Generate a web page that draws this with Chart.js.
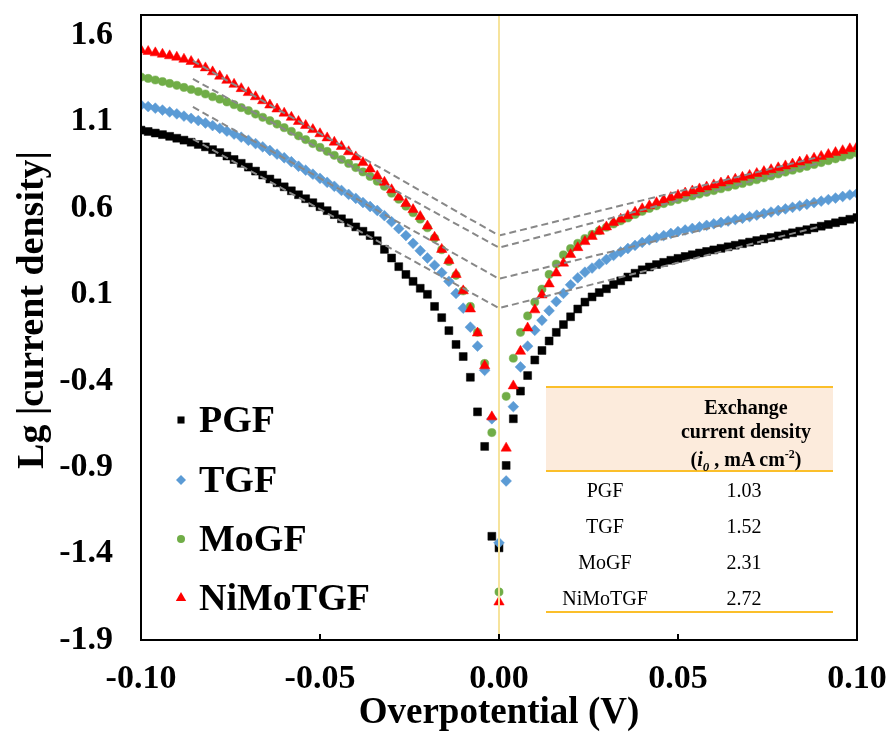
<!DOCTYPE html>
<html>
<head>
<meta charset="utf-8">
<script src="https://cdn.jsdelivr.net/npm/chart.js@4/dist/chart.umd.min.js"></script>
<style>
  html, body { margin: 0; padding: 0; background: #fff; }
  #wrap { position: relative; width: 887px; height: 738px; font-family: "Liberation Serif", "Times New Roman", serif; }
  #chart { position: absolute; left: 0; top: 0; }
  .rule { position: absolute; left: 546px; width: 287px; height: 2px; background: #fbbf2a; }
  .cell { position: absolute; height: 24px; line-height: 24px; font-size: 20px; text-align: center; color: #000; white-space: nowrap; }
  #tblHead { position: absolute; left: 546px; top: 388px; width: 287px; height: 82px; background: #fcebdc; }
  #tblHeadText { position: absolute; left: 646px; top: 396px; width: 200px; font-size: 20px; font-weight: bold; line-height: 23.5px; text-align: center; }
</style>
</head>
<body>
<div id="wrap">
  <canvas id="chart" width="887" height="738"></canvas>
  <div id="tblHead"></div>
  <div class="rule" style="top:386px"></div>
  <div class="rule" style="top:470px"></div>
  <div class="rule" style="top:611px"></div>
  <div id="tblHeadText">Exchange<br>current density<br>(<i>i</i><sub style="font-size:13px"><i>0</i></sub> , mA cm<sup style="font-size:12px">-2</sup>)</div>
  <div id="tblBody"></div>
</div>
<script>
// overpotential grid (V)
const potential = [
  -0.100, -0.098, -0.096, -0.094, -0.092, -0.090, -0.088, -0.086, -0.084, -0.082,
  -0.080, -0.078, -0.076, -0.074, -0.072, -0.070, -0.068, -0.066, -0.064, -0.062,
  -0.060, -0.058, -0.056, -0.054, -0.052, -0.050, -0.048, -0.046, -0.044, -0.042,
  -0.040, -0.038, -0.036, -0.034, -0.032, -0.030, -0.028, -0.026, -0.024, -0.022,
  -0.020, -0.018, -0.016, -0.014, -0.012, -0.010, -0.008, -0.006, -0.004, -0.002,
  0.000,
  0.002, 0.004, 0.006, 0.008, 0.010, 0.012, 0.014, 0.016, 0.018, 0.020,
  0.022, 0.024, 0.026, 0.028, 0.030, 0.032, 0.034, 0.036, 0.038, 0.040,
  0.042, 0.044, 0.046, 0.048, 0.050, 0.052, 0.054, 0.056, 0.058, 0.060,
  0.062, 0.064, 0.066, 0.068, 0.070, 0.072, 0.074, 0.076, 0.078, 0.080,
  0.082, 0.084, 0.086, 0.088, 0.090, 0.092, 0.094, 0.096, 0.098, 0.100
];

// Lg |current density| for each sample
const pgf = [
  1.05, 1.042, 1.033, 1.024, 1.014, 1.003, 0.992, 0.98, 0.967, 0.953,
  0.937, 0.92, 0.9, 0.88, 0.858, 0.836, 0.813, 0.79, 0.767, 0.745,
  0.722, 0.699, 0.676, 0.653, 0.63, 0.607, 0.584, 0.561, 0.537, 0.514,
  0.49, 0.465, 0.44, 0.41, 0.36, 0.31, 0.26, 0.215, 0.175, 0.135,
  0.1, 0.03, -0.035, -0.11, -0.19, -0.26, -0.38, -0.58, -0.78, -1.3,
  -1.367,
  -0.89, -0.62, -0.46, -0.37, -0.28, -0.225, -0.17, -0.12, -0.075, -0.03,
  0.015, 0.055, 0.085, 0.11, 0.132, 0.157, 0.178, 0.2, 0.222, 0.242,
  0.258, 0.272, 0.285, 0.297, 0.308, 0.319, 0.329, 0.339, 0.348, 0.357,
  0.366, 0.375, 0.384, 0.393, 0.402, 0.411, 0.42, 0.429, 0.438, 0.447,
  0.456, 0.465, 0.474, 0.484, 0.494, 0.504, 0.514, 0.524, 0.534, 0.544
];
const tgf = [
  1.195, 1.186, 1.177, 1.166, 1.155, 1.144, 1.131, 1.118, 1.105, 1.091,
  1.076, 1.06, 1.044, 1.027, 1.009, 0.991, 0.972, 0.953, 0.932, 0.911,
  0.89, 0.867, 0.841, 0.818, 0.795, 0.771, 0.748, 0.725, 0.701, 0.678,
  0.655, 0.631, 0.608, 0.585, 0.555, 0.52, 0.48, 0.44, 0.395, 0.352,
  0.31, 0.268, 0.225, 0.175, 0.105, 0.02, -0.09, -0.2, -0.34, -0.62,
  -1.338,
  -0.98, -0.55, -0.32, -0.2, -0.108, -0.05, 0.005, 0.058, 0.105, 0.155,
  0.195, 0.228, 0.252, 0.276, 0.302, 0.325, 0.345, 0.365, 0.383, 0.4,
  0.415, 0.428, 0.44, 0.452, 0.463, 0.472, 0.481, 0.49, 0.499, 0.508,
  0.516, 0.524, 0.532, 0.54, 0.549, 0.558, 0.567, 0.576, 0.585, 0.594,
  0.603, 0.612, 0.621, 0.63, 0.639, 0.648, 0.657, 0.666, 0.675, 0.684
];
const mogf = [
  1.357, 1.349, 1.34, 1.331, 1.32, 1.309, 1.297, 1.285, 1.273, 1.259,
  1.243, 1.229, 1.213, 1.197, 1.18, 1.163, 1.143, 1.124, 1.105, 1.085,
  1.064, 1.043, 1.017, 0.995, 0.972, 0.95, 0.927, 0.904, 0.88, 0.857,
  0.833, 0.808, 0.782, 0.754, 0.725, 0.685, 0.65, 0.61, 0.572, 0.535,
  0.485, 0.425, 0.358, 0.29, 0.21, 0.12, 0.03, -0.12, -0.3, -0.7,
  -1.622,
  -0.49, -0.27, -0.12, -0.025, 0.055, 0.13, 0.215, 0.275, 0.328, 0.365,
  0.395, 0.423, 0.447, 0.468, 0.488, 0.507, 0.525, 0.542, 0.562, 0.58,
  0.597, 0.612, 0.625, 0.637, 0.648, 0.659, 0.669, 0.68, 0.69, 0.7,
  0.711, 0.721, 0.731, 0.741, 0.752, 0.763, 0.774, 0.785, 0.796, 0.807,
  0.818, 0.829, 0.84, 0.851, 0.862, 0.873, 0.884, 0.895, 0.906, 0.917
];
const nimotgf = [
  1.513, 1.505, 1.497, 1.489, 1.48, 1.472, 1.46, 1.447, 1.43, 1.41,
  1.387, 1.362, 1.338, 1.315, 1.29, 1.267, 1.243, 1.22, 1.195, 1.172,
  1.148, 1.124, 1.1, 1.077, 1.053, 1.029, 1.005, 0.98, 0.955, 0.925,
  0.895, 0.862, 0.825, 0.785, 0.748, 0.705, 0.662, 0.625, 0.59, 0.55,
  0.495, 0.43, 0.36, 0.295, 0.215, 0.12, 0.015, -0.124, -0.314, -0.609,
  -1.68,
  -0.79, -0.43, -0.23, -0.095, 0.01, 0.096, 0.16, 0.223, 0.28, 0.33,
  0.37, 0.405, 0.435, 0.465, 0.49, 0.515, 0.535, 0.555, 0.575, 0.595,
  0.612, 0.63, 0.645, 0.66, 0.673, 0.686, 0.698, 0.71, 0.721, 0.733,
  0.744, 0.755, 0.766, 0.777, 0.788, 0.799, 0.81, 0.821, 0.832, 0.843,
  0.854, 0.865, 0.876, 0.887, 0.898, 0.909, 0.92, 0.931, 0.942, 0.953
];

// Tafel extrapolation lines (cathodic start, crossing at 0 V, anodic end)
const tafelX = [-0.0855, 0, 0.09];
const tafelPGF = [0.998, 0.02, 0.494];
const tafelTGF = [1.184, 0.19, 0.639];
const tafelMoGF = [1.346, 0.37, 0.862];
const tafelNiMoTGF = [1.45, 0.44, 0.898];

// vertical marker at zero overpotential
const zeroX = [0, 0];
const zeroY = [-1.9, 1.716];

const seriesNames = ['PGF', 'TGF', 'MoGF', 'NiMoTGF'];
const exchangeDensity = ['1.03', '1.52', '2.31', '2.72'];
const xTicks = [-0.10, -0.05, 0.00, 0.05, 0.10];
const yTicks = [-1.9, -1.4, -0.9, -0.4, 0.1, 0.6, 1.1, 1.6];
const yTitle = 'Lg |current density|';

const FONT = '"Liberation Serif", "Times New Roman", serif';

// --- table overlay ---
const body = document.getElementById('tblBody');
const rowCenters = [490, 526, 562, 598];
seriesNames.forEach((name, i) => {
    const a = document.createElement('div');
    a.className = 'cell';
    a.style.left = '545px'; a.style.width = '120px';
    a.style.top = (rowCenters[i] - 12) + 'px';
    a.textContent = name;
    const b = document.createElement('div');
    b.className = 'cell';
    b.style.left = '694px'; b.style.width = '100px';
    b.style.top = (rowCenters[i] - 12) + 'px';
    b.textContent = exchangeDensity[i];
    body.appendChild(a); body.appendChild(b);
});

// --- helpers ---
function toPoints(xs, ys) {
    return xs.map((x, i) => ({ x: x, y: ys[i] }));
}

function markerSet(label, ys, color, style, radius, order) {
    return {
        label: label,
        data: toPoints(potential, ys),
        showLine: false,
        pointStyle: style,
        pointRadius: radius,
        pointBackgroundColor: color,
        pointBorderColor: color,
        pointBorderWidth: 0.5,
        order: order
    };
}

function dashedSet(ys) {
    return {
        label: 'tafel',
        data: toPoints(tafelX, ys),
        showLine: true,
        borderColor: '#888888',
        borderWidth: 2,
        borderDash: [7, 4],
        pointRadius: 0,
        fill: false,
        order: 1
    };
}

function drawMarker(ctx, style, x, y, r) {
    ctx.beginPath();
    if (style === 'rect') {
        ctx.rect(x - r * 0.707, y - r * 0.707, r * 1.414, r * 1.414);
    } else if (style === 'rectRot') {
        ctx.moveTo(x, y - r); ctx.lineTo(x + r, y); ctx.lineTo(x, y + r); ctx.lineTo(x - r, y);
        ctx.closePath();
    } else if (style === 'circle') {
        ctx.arc(x, y, r, 0, Math.PI * 2);
    } else {
        ctx.moveTo(x, y - r); ctx.lineTo(x + r * 0.866, y + r * 0.5); ctx.lineTo(x - r * 0.866, y + r * 0.5);
        ctx.closePath();
    }
    ctx.fill();
}

// frame, inner ticks on the x axis, y title, inset legend
const decorPlugin = {
    id: 'decor',
    afterDatasetsDraw(chart) {
        const ctx = chart.ctx;
        const { left, top, right, bottom } = chart.chartArea;
        ctx.save();
        ctx.strokeStyle = '#000';
        ctx.lineWidth = 2;
        ctx.strokeRect(left, top, right - left, bottom - top);
        const xs = chart.scales.x;
        xTicks.forEach(v => {
            const px = Math.round(xs.getPixelForValue(v));
            ctx.beginPath();
            ctx.moveTo(px, bottom);
            ctx.lineTo(px, bottom - 6);
            ctx.stroke();
        });
        ctx.restore();
    },
    afterDraw(chart) {
        const ctx = chart.ctx;
        ctx.save();
        // y axis title, placed as in the source figure
        ctx.font = 'bold 38px ' + FONT;
        ctx.fillStyle = '#000';
        ctx.textAlign = 'center';
        ctx.textBaseline = 'middle';
        ctx.translate(33, 310);
        ctx.rotate(-Math.PI / 2);
        ctx.fillText(yTitle, 0, 0);
        ctx.restore();

        const rows = [420, 480, 539, 598];
        const sizes = [5, 5, 4, 6];
        ctx.save();
        ctx.font = 'bold 38px ' + FONT;
        ctx.textBaseline = 'middle';
        seriesNames.forEach((name, i) => {
            const ds = chart.data.datasets.find(d => d.label === name);
            ctx.fillStyle = ds.pointBackgroundColor;
            drawMarker(ctx, ds.pointStyle, 181, rows[i], sizes[i]);
            ctx.fillStyle = '#000';
            ctx.fillText(name, 199, rows[i] + 2);
        });
        ctx.restore();
    }
};

Chart.defaults.font.family = FONT;
Chart.defaults.color = '#000';

new Chart(document.getElementById('chart').getContext('2d'), {
    type: 'scatter',
    data: {
        datasets: [
            {
                label: 'zero',
                data: toPoints(zeroX, zeroY),
                showLine: true,
                borderColor: '#f6e39c',
                borderWidth: 2,
                pointRadius: 0,
                order: 0
            },
            dashedSet(tafelPGF),
            dashedSet(tafelTGF),
            dashedSet(tafelMoGF),
            dashedSet(tafelNiMoTGF),
            markerSet('NiMoTGF', nimotgf, '#ff0000', 'triangle', 6, 2),
            markerSet('MoGF', mogf, '#70ad47', 'circle', 4.1, 3),
            markerSet('TGF', tgf, '#5b9bd5', 'rectRot', 5.4, 4),
            markerSet('PGF', pgf, '#000000', 'rect', 5.6, 5)
        ]
    },
    options: {
        responsive: false,
        animation: false,
        events: [],
        layout: { padding: { left: 0, right: 30, top: 15, bottom: 0 } },
        plugins: {
            legend: { display: false },
            tooltip: { enabled: false }
        },
        scales: {
            x: {
                type: 'linear',
                min: -0.1,
                max: 0.1,
                grid: { display: false, drawTicks: false },
                border: { display: false },
                afterBuildTicks: s => { s.ticks = xTicks.map(v => ({ value: v })); },
                afterFit: s => { s.height = 98; s.paddingLeft = 0; s.paddingRight = 0; },
                ticks: {
                    font: { size: 34, weight: 'bold', lineHeight: 1 },
                    padding: 22,
                    maxRotation: 0,
                    autoSkip: false,
                    callback: v => Number(v).toFixed(2)
                },
                title: {
                    display: true,
                    text: 'Overpotential (V)',
                    font: { size: 37, weight: 'bold', lineHeight: 1.2 },
                    padding: { top: 0, bottom: 2 }
                }
            },
            y: {
                type: 'linear',
                min: -1.9,
                max: 1.716,
                grid: { display: false, drawTicks: false },
                border: { display: false },
                afterBuildTicks: s => { s.ticks = yTicks.map(v => ({ value: v })); },
                afterFit: s => { s.width = 141; s.paddingTop = 0; s.paddingBottom = 0; },
                ticks: {
                    font: { size: 34, weight: 'bold', lineHeight: 0.9 },
                    padding: 28,
                    autoSkip: false,
                    callback: v => Number(v).toFixed(1)
                },
                title: { display: false }
            }
        }
    },
    plugins: [decorPlugin]
});
</script>
</body>
</html>
